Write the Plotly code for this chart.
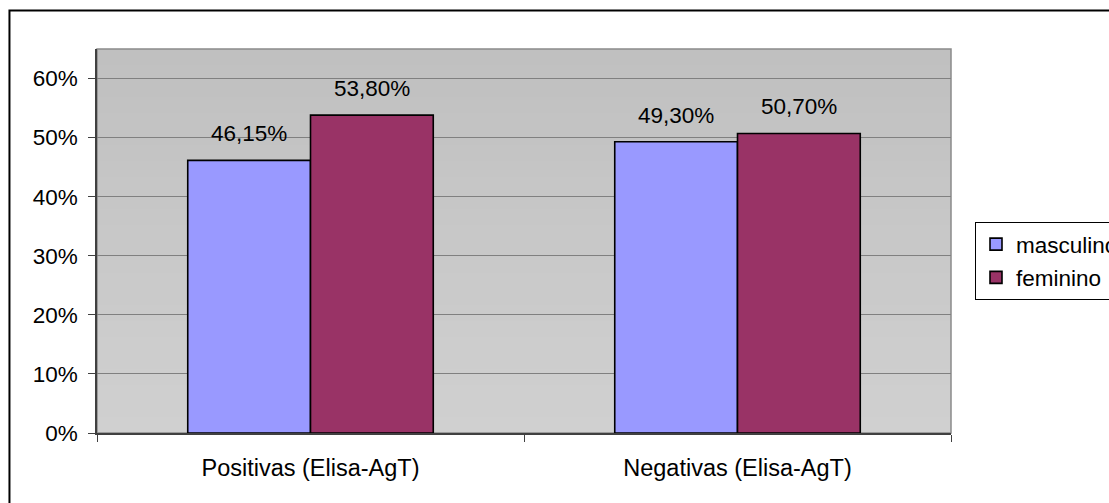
import plotly.graph_objects as go

# Data
categories = ["Positivas (Elisa-AgT)", "Negativas (Elisa-AgT)"]
masculino = [46.15, 49.30]
feminino = [53.80, 50.70]
series_names = ["masculino", "feminino"]
series_colors = ["#9999FF", "#993366"]
y_ticks = [0, 10, 20, 30, 40, 50, 60]

FONT = "Liberation Sans, Arial, sans-serif"
FS = 22.5
BARGAP = 0.425

cat_pos = list(range(len(categories)))
bar_w = (1 - BARGAP) / 2

fig = go.Figure()
for s, (name, vals, col) in enumerate(zip(series_names, [masculino, feminino], series_colors)):
    offset = (s - 0.5) * bar_w
    fig.add_trace(go.Bar(
        name=name, x=[p + offset for p in cat_pos], y=vals, width=bar_w,
        marker=dict(color=col, line=dict(color="black", width=1.6)),
        legendgroup=name,
    ))

# Value labels above each bar
annotations = []
for s, vals in enumerate([masculino, feminino]):
    offset = (s - 0.5) * bar_w
    for p, v in zip(cat_pos, vals):
        annotations.append(dict(
            x=p + offset, y=v, xref="x", yref="y",
            text=f"{v:.2f}%".replace(".", ","),
            showarrow=False, yanchor="bottom", yshift=12,
            font=dict(family=FONT, size=FS, color="black"),
        ))

# Plot-area gradient background (light grey, darker at top)
shapes = []
n_bands = 24
for k in range(n_bands):
    g = int(round(208 - (208 - 192) * k / (n_bands - 1)))
    shapes.append(dict(
        type="rect", xref="paper", yref="paper",
        x0=0, x1=1, y0=k / n_bands, y1=(k + 1) / n_bands,
        fillcolor=f"rgb({g},{g},{g})", line=dict(width=0), layer="below",
    ))
# Plot-area frame
shapes.append(dict(
    type="rect", xref="paper", yref="paper", x0=0, x1=1, y0=0, y1=1,
    line=dict(color="#8a8a8a", width=1.5), layer="below",
))
# Chart outer frame
shapes.append(dict(
    type="rect", xref="paper", yref="paper",
    x0=-0.1025, x1=1.25, y0=-0.3, y1=1.1003,
    line=dict(color="black", width=2), layer="below",
))

fig.update_layout(
    width=1109, height=503,
    margin=dict(l=97, r=158, t=49, b=70, autoexpand=False),
    paper_bgcolor="white", plot_bgcolor="#C8C8C8",
    font=dict(family=FONT, size=FS, color="black"),
    showlegend=True,
    legend=dict(
        x=1.0281, y=0.5495, xanchor="left", yanchor="top",
        bordercolor="black", borderwidth=1, bgcolor="white",
        traceorder="grouped", tracegroupgap=1,
        font=dict(family=FONT, size=FS, color="black"),
        itemwidth=30,
    ),
    annotations=annotations,
    shapes=shapes,
)
fig.update_xaxes(
    range=[-0.5, len(categories) - 0.5],
    tickvals=cat_pos, ticktext=categories, ticks="",
    tickfont=dict(family=FONT, size=23.5, color="black"),
    minor=dict(tickvals=[p - 0.5 for p in cat_pos] + [cat_pos[-1] + 0.5],
               ticks="outside", ticklen=7, tickcolor="#404040", showgrid=False),
    showgrid=False, showline=True, linecolor="#404040", linewidth=1.5,
    ticklabelstandoff=13, zeroline=False,
)
fig.update_yaxes(
    range=[0, 65], tickvals=y_ticks, ticktext=[f"{v}%" for v in y_ticks],
    showgrid=True, gridcolor="#808080", gridwidth=1,
    showline=True, linecolor="#404040", linewidth=1.5,
    ticks="outside", ticklen=7, tickcolor="#404040",
    ticklabelstandoff=6, zeroline=False,
)

fig.write_html("out.html")
